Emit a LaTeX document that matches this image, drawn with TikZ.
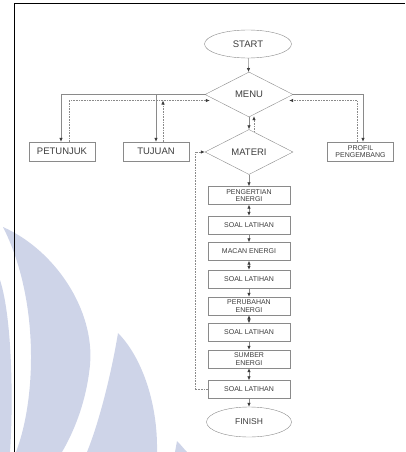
\documentclass[tikz,border=0pt]{standalone}
\usepackage{fontspec}
\setmainfont{Liberation Sans}
\usetikzlibrary{arrows.meta,calc,shapes.geometric}
\definecolor{UMNwash}{RGB}{206,212,232}
\definecolor{FCline}{HTML}{8A8A8A}
\definecolor{FCtext}{HTML}{3C3C3C}
\tikzset{
  fcbox/.style={draw=FCline,rectangle,minimum width=82pt,minimum height=18pt,inner sep=1pt,
    align=center,text=FCtext,font=\fontsize{7}{7.8}\selectfont},
  fcside/.style={fcbox,minimum width=66pt,minimum height=19pt,font=\fontsize{9.5}{10}\selectfont},
  fcterm/.style={draw=FCline,ellipse,minimum width=87pt,minimum height=28pt,inner sep=0pt,
    text=FCtext,font=\fontsize{9.5}{10}\selectfont},
  fcdec/.style={draw=FCline,diamond,minimum width=88pt,minimum height=45pt,inner sep=0pt,
    text=FCtext,font=\fontsize{9.5}{10}\selectfont},
  tip/.tip={Latex[length=4pt,width=3.4pt,color=FCtext]},
  go/.style={draw=FCline,line width=0.6pt,-tip},
  back/.style={go,densely dotted},
  both/.style={draw=FCline,line width=0.6pt,tip-tip}
}

\begin{document}
\begin{tikzpicture}[x=1pt,y=-1pt]
  \useasboundingbox (0,0) rectangle (405,452);
  % watermark
  \fill[UMNwash] (0,280) .. controls (13,320) and (13,410) .. (10,452) -- (0,452) -- cycle;
  \fill[UMNwash] (3,227) .. controls (55,250) and (95,310) .. (90,365)
    .. controls (86,405) and (72,435) .. (62,452) -- (16,452)
    .. controls (36,400) and (40,300) .. (3,227) -- cycle;
  \fill[UMNwash] (118,333) .. controls (140,355) and (158,400) .. (157,452) -- (87,452)
    .. controls (100,420) and (112,370) .. (118,333) -- cycle;
  \fill[UMNwash] (177,441) .. controls (181,445) and (184,449) .. (187,452) -- (175,452) -- cycle;
  \draw[black,line width=0.8pt] (14,452) -- (14,3) -- (405,3);

  \node[fcterm] (start) at (248,44) {START};
  \node[fcdec] (menu) at (249,94.5) {MENU};
  \node[fcdec] (materi) at (249,152) {MATERI};
  \node[fcside] (petunjuk) at (62,151.5) {PETUNJUK};
  \node[fcside] (tujuan) at (156,151.5) {TUJUAN};
  \node[fcside,font=\fontsize{7}{7.8}\selectfont] (profil) at (360.5,151.5) {PROFIL\\PENGEMBANG};

  \node[fcbox] (pengertian) at (249,195.5) {PENGERTIAN\\ENERGI};
  \node[fcbox] (soal1) at (249,225) {SOAL LATIHAN};
  \node[fcbox] (macan) at (249,251.5) {MACAN ENERGI};
  \node[fcbox] (soal2) at (249,279) {SOAL LATIHAN};
  \node[fcbox] (perubahan) at (249,306) {PERUBAHAN\\ENERGI};
  \node[fcbox] (soal3) at (249,332.5) {SOAL LATIHAN};
  \node[fcbox] (sumber) at (249,359) {SUMBER\\ENERGI};
  \node[fcbox] (soal4) at (249,389.5) {SOAL LATIHAN};
  \node[fcterm,minimum width=85pt,minimum height=30pt,font=\fontsize{8.5}{9}\selectfont] (finish) at (249,422) {FINISH};

  \coordinate (lret) at ($(menu.west)+(5,6)$);
  \coordinate (rret) at ($(menu.east)+(-4,6)$);

  \draw[go] (start) -- (menu);
  \draw[go] (menu.west) -| ([xshift=-1pt]petunjuk.north);
  \draw[go] (menu.west) -| (tujuan.north);
  \draw[go] (menu.east) -| ([xshift=2.5pt]profil.north);
  \draw[back] ([xshift=7pt]petunjuk.north) |- (lret);
  \draw[back] ([xshift=7pt]tujuan.north) -- ([xshift=7pt]tujuan.north |- lret);
  \draw[back] ([xshift=-3.5pt]profil.north) |- (rret);
  \draw[go] (menu.south) -- (materi.north);
  \draw[back] ($(materi.north)+(5,2)$) -- ($(menu.south)+(5,-1)$);
  \draw[go] (materi.south) -- (pengertian.north);

  \foreach \a/\b in {pengertian/soal1,macan/soal2,perubahan/soal3,sumber/soal4}
    \draw[both] (\a.south) -- (\b.north);
  \foreach \a/\b in {soal1/macan,soal2/perubahan,soal3/sumber,soal4/finish}
    \draw[go] (\a.south) -- (\b.north);

  \draw[back] (soal4.west) -- ([xshift=-13pt]soal4.west) |- (materi.west);
\end{tikzpicture}
\end{document}
